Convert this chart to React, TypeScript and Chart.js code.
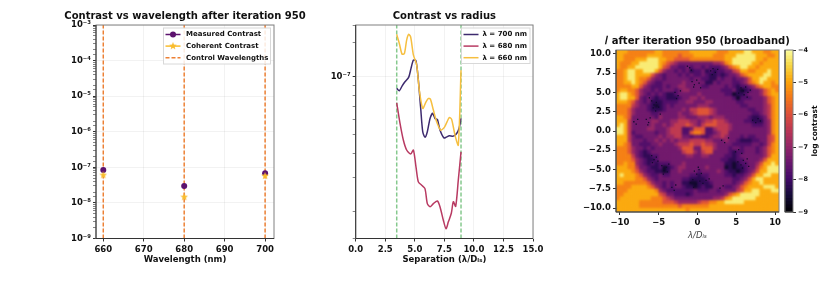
import React, { useEffect, useRef } from "react";
import { Chart, registerables } from "chart.js";

Chart.register(...registerables);

const FONT = "'DejaVu Sans'";

const wavelengths = [660, 680, 700];
const measuredContrast = [8.4e-8, 3.0e-8, 6.8e-8];
const coherentContrast = [6.0e-8, 1.45e-8, 5.7e-8];

const sep700 = [3.47, 3.69, 3.92, 4.17, 4.48, 4.68, 4.88, 5.1, 5.3, 5.5, 5.67, 5.86, 6.06, 6.29, 6.51, 6.71, 6.91, 7.13, 7.47, 7.7, 7.92, 8.26, 8.54, 8.74, 8.91];
const contrast700 = [0.87, 0.846, 0.894, 0.942, 0.992, 1.105, 1.22, 1.21, 0.961, 0.684, 0.518, 0.484, 0.518, 0.607, 0.645, 0.607, 0.6, 0.528, 0.48, 0.487, 0.493, 0.491, 0.507, 0.538, 0.607];
const sep680 = [3.47, 3.75, 4.03, 4.31, 4.65, 4.88, 5.1, 5.3, 5.58, 5.86, 6.06, 6.29, 6.57, 6.91, 7.13, 7.41, 7.64, 7.84, 8.09, 8.26, 8.46, 8.68, 8.91];
const contrast680 = [0.732, 0.572, 0.469, 0.416, 0.396, 0.416, 0.34, 0.284, 0.273, 0.262, 0.219, 0.211, 0.219, 0.226, 0.211, 0.18, 0.162, 0.176, 0.195, 0.224, 0.212, 0.29, 0.407];
const sep660 = [3.47, 3.69, 3.92, 4.12, 4.31, 4.48, 4.65, 4.88, 5.16, 5.38, 5.67, 5.95, 6.15, 6.32, 6.57, 6.85, 7.19, 7.5, 7.92, 8.12, 8.4, 8.68, 8.91];
const contrast660 = [1.66, 1.49, 1.31, 1.32, 1.55, 1.66, 1.61, 1.3, 1.15, 0.852, 0.684, 0.741, 0.771, 0.765, 0.671, 0.583, 0.528, 0.545, 0.614, 0.6, 0.497, 0.441, 1.08];
const darkZoneEdges = [3.47, 8.91];

const sepTicks = [0, 2.5, 5, 7.5, 10, 12.5, 15];

// log contrast for each digit used in the image rows
const levelValues = [-8.6, -8.2, -7.8, -7.4, -6.95, -6.45, -5.95, -5.4, -4.95, -4.25];
const imageRows = [
  "888777777788777777788888887778888998887788",
  "887777778888777767778888877788899999888778",
  "887778889998877666677777777788999999887888",
  "877788999998765433333333344578999998878888",
  "877889999998653322323323222346789988788888",
  "778998899986433232312231212233568877888988",
  "778998888643233323232232112123346788889988",
  "778998776433233333323322113233233468899888",
  "778898764322333334333331132333223467898878",
  "777788643222323344333322333323212234678877",
  "788776433232333234433333333222310123346787",
  "899876432323211233333433333322011233346788",
  "899886323212211123344343333333202223334678",
  "888764323111222233443334433333322333334678",
  "777754332101232333333444333333332233334578",
  "777643332111233334355666543333333322334578",
  "777643333223333343345666543333333332234578",
  "887633333324333344333444344433333321123578",
  "888533333443334455544345565543333221113478",
  "898533333433434555654356665554333332223478",
  "998533334433345552236662245554333333333478",
  "998523333323345552267762234553333333333478",
  "888532233334344553323322344543332322333568",
  "888533323343434344455554433343321112233568",
  "887633222334333455565565543333222223323578",
  "777643323233333346663366643332332333234678",
  "777643212333333335664356633332122333234678",
  "777753211223333333443344333322123333334688",
  "777764321123333333333333333221122333346888",
  "778774321212223334333333333311012233468898",
  "888775332112012344333334333301011233578999",
  "888876432211013343333233334321101234688999",
  "898887643223223333322122333322122346889988",
  "888887764323333332211112333333223468998888",
  "887777776433232331100111233333234678898888",
  "777788887643232332110121133322346788889998",
  "777888888874322222223222332333356889988899",
  "778888888886533222123333333346789999988888",
  "788888888777654333333333344578999999888888",
  "888888777777666544444566778899999888888888",
  "888888777777777767777777888888888888888888",
  "888888888888888888788888888888888888888888",
];

// dark speckles seen in the image, x then y
const speckleX = [-5.9, -5.6, -5.3, -5.7, -5.0, -5.4, -4.8, -6.2, -2.9, -2.5, -2.2, -2.7, -0.7, -0.4, -0.1, -0.5, 0.2, 0.4, 1.7, 2.0, 2.3, 2.6, 1.9, -1.3, -1.0, -0.8, 5.6, 5.9, 6.2, 6.5, 6.8, 6.0, 6.4, 5.3, -6.6, -6.3, -6.1, -6.4, -8.2, -7.9, -7.7, 7.1, 7.5, 7.8, 8.1, -5.9, -5.6, -5.3, -5.8, -5.1, -4.6, -4.3, -4.0, -3.7, -4.4, -3.9, -0.4, -0.1, 0.2, 0.5, 0.1, -0.9, -0.6, -0.2, 0.3, 0.7, 1.1, 1.5, -0.5, 5.2, 5.6, 5.9, 6.2, 6.6, 5.8, 6.4, 4.9, 5.3, 5.7, 3.1, 4.0, 3.5, -3.3, -2.8, -3.0, 2.9, 3.3];
const speckleY = [3.9, 3.4, 3.7, 3.0, 3.1, 2.6, 2.2, 4.3, 5.0, 4.6, 5.2, 4.2, 6.4, 6.0, 6.6, 5.7, 6.2, 5.6, 7.8, 8.1, 7.6, 8.0, 7.3, 8.4, 8.2, 7.9, 5.6, 5.2, 5.7, 5.0, 5.3, 4.7, 4.4, 4.9, 1.5, 1.1, 1.7, 0.8, 1.2, 0.9, 1.5, 1.4, 1.1, 1.6, 1.3, -3.2, -3.7, -3.4, -4.1, -3.9, -4.5, -5.1, -4.7, -4.3, -5.6, -5.3, -5.2, -5.6, -5.0, -5.5, -4.7, -6.7, -6.3, -6.9, -6.5, -6.8, -6.4, -6.2, -7.3, -4.0, -4.4, -3.8, -4.2, -4.6, -4.8, -3.6, -2.7, -2.4, -2.9, -1.2, -0.9, -1.5, -7.3, -7.0, -7.7, -7.4, -7.1];
const speckleValue = -8.6;

const colorbarSteps = Array.from({ length: 50 }, (_, i) => i);

const inferno = [
  [0, 0, 4], [22, 11, 57], [66, 10, 104], [106, 23, 110], [147, 38, 103], [188, 55, 84],
  [221, 81, 58], [243, 120, 25], [252, 165, 10], [246, 215, 70], [252, 255, 164],
];

function infernoColor(t: number) {
  const p = Math.min(0.9999, Math.max(0, t)) * 10;
  const i = Math.floor(p);
  const f = p - i;
  const c = inferno[i].map((a, k) => Math.round(a + (inferno[i + 1][k] - a) * f));
  return `rgb(${c[0]},${c[1]},${c[2]})`;
}
const logColor = (v: number) => infernoColor((v + 9) / 5);

function sup(v: number) {
  const e = Math.round(Math.log10(v));
  const map: Record<string, string> = { "-": "⁻", "0": "⁰", "1": "¹", "2": "²", "3": "³", "4": "⁴", "5": "⁵", "6": "⁶", "7": "⁷", "8": "⁸", "9": "⁹" };
  return "10" + String(e).split("").map((c) => map[c]).join("");
}
const isDecade = (v: number) => Math.abs(Math.log10(v) - Math.round(Math.log10(v))) < 1e-6;
const signed = (v: number, d: number) => (v < 0 ? "−" : "") + Math.abs(v).toFixed(d);

function makeStar() {
  const c = document.createElement("canvas");
  c.width = 8;
  c.height = 8;
  const g = c.getContext("2d")!;
  g.fillStyle = "#f9bc2c";
  g.beginPath();
  for (let i = 0; i < 10; i++) {
    const r = i % 2 ? 1.7 : 4;
    const a = -Math.PI / 2 + (i * Math.PI) / 5;
    g.lineTo(4 + r * Math.cos(a), 4 + r * Math.sin(a));
  }
  g.closePath();
  g.fill();
  return c;
}

const framePlugin = {
  id: "frame",
  beforeDraw(chart: any) {
    const t = chart.titleBlock;
    if (!t) return;
    const c = (chart.chartArea.left + chart.chartArea.right) / 2;
    t.left = c - 200;
    t.right = c + 200;
  },
  afterDraw(chart: any) {
    const { left, right, top, bottom } = chart.chartArea;
    const g = chart.ctx;
    g.save();
    g.strokeStyle = "#808080";
    g.lineWidth = 1;
    g.strokeRect(left, top, right - left, bottom - top);
    g.strokeStyle = "#333";
    g.beginPath();
    g.moveTo(left, top);
    g.lineTo(left, bottom);
    g.lineTo(right, bottom);
    g.stroke();
    g.restore();
  },
};

const blurBase = {
  id: "blurBase",
  afterDatasetDraw(chart: any, args: any) {
    if (args.index !== 1) return;
    const { left, right, top, bottom } = chart.chartArea;
    const g = chart.ctx;
    g.save();
    g.beginPath();
    g.rect(left, top, right - left, bottom - top);
    g.clip();
    g.filter = "blur(0.9px)";
    g.drawImage(chart.canvas, 0, 0);
    g.restore();
  },
};

const boxLegend = {
  id: "boxLegend",
  afterDatasetsDraw(chart: any, _a: any, o: any) {
    if (!o.width) return;
    const g = chart.ctx;
    const items = chart.data.datasets.filter((d: any) => d.inLegend);
    const x0 = chart.chartArea.right - o.right - o.width;
    const y0 = chart.chartArea.top + 3;
    g.save();
    g.fillStyle = "rgba(255,255,255,0.85)";
    g.strokeStyle = "#d8d8d8";
    g.lineWidth = 1;
    g.fillRect(x0, y0, o.width, o.height);
    g.strokeRect(x0, y0, o.width, o.height);
    g.font = `bold ${o.size}px ${FONT}`;
    g.textBaseline = "middle";
    items.forEach((d: any, i: number) => {
      const y = y0 + 6.5 + i * 11.6;
      g.strokeStyle = d.legendColor;
      g.lineWidth = 1.5;
      g.setLineDash(d.borderDash || []);
      g.beginPath();
      g.moveTo(x0 + 2, y);
      g.lineTo(x0 + 17, y);
      g.stroke();
      g.setLineDash([]);
      if (d.pointStyle instanceof HTMLCanvasElement) g.drawImage(d.pointStyle, x0 + 5.5, y - 4);
      else if (d.pointRadius > 0) {
        g.fillStyle = d.legendColor;
        g.beginPath();
        g.arc(x0 + 9.5, y, 3, 0, Math.PI * 2);
        g.fill();
      }
      g.fillStyle = "#111";
      g.fillText(d.label, x0 + o.textX, y);
    });
    g.restore();
  },
};

const sideTitle = {
  id: "sideTitle",
  afterDraw(chart: any, _a: any, o: any) {
    if (!o.text) return;
    const g = chart.ctx;
    g.save();
    g.translate(o.x, (chart.chartArea.top + chart.chartArea.bottom) / 2);
    g.rotate(-Math.PI / 2);
    g.font = `bold 7.5px ${FONT}`;
    g.fillStyle = "#111";
    g.textAlign = "center";
    g.textBaseline = "middle";
    g.fillText(o.text, 0, 0);
    g.restore();
  },
};

const tickFont = { family: FONT, size: 8.5, weight: "bold" as const };
const baseTicks = { font: tickFont, color: "#111", maxRotation: 0, autoSkip: false, padding: 3, includeBounds: false };
const faintGrid = "rgba(0,0,0,0.05)";

function titleOpts(text: string, top: number, bottom: number) {
  return {
    display: true,
    text,
    color: "#111",
    font: { family: FONT, size: 10, weight: "bold" as const, lineHeight: 1.2 },
    padding: { top, bottom },
  };
}

function axisTitle(text: string, italic = false) {
  return {
    display: true,
    text,
    color: italic ? "#444" : "#111",
    padding: { top: 2, bottom: 0 },
    font: italic ? { family: FONT, size: 8.5, style: "italic" as const } : { family: FONT, size: 8.5, weight: "bold" as const },
  };
}

function wavelengthConfig(): any {
  const star = makeStar();
  return {
    type: "scatter",
    data: {
      datasets: [
        { label: "Measured Contrast", inLegend: true, legendColor: "#5c126e", data: wavelengths.map((x, i) => ({ x, y: measuredContrast[i] })), pointRadius: 3, pointBackgroundColor: "#5c126e", pointBorderWidth: 0, order: 1 },
        { label: "Coherent Contrast", inLegend: true, legendColor: "#f9bc2c", data: wavelengths.map((x, i) => ({ x, y: coherentContrast[i] })), pointStyle: star, pointRadius: 4, order: 0 },
        {
          label: "Control Wavelengths", inLegend: true, legendColor: "#ed8034", showLine: true, spanGaps: false, pointRadius: 0, borderColor: "#ed8034", borderWidth: 1.5, borderDash: [4, 2], order: 2,
          data: wavelengths.flatMap((x) => [{ x, y: 1e-9 }, { x, y: 1e-3 }, { x, y: null }]),
        },
      ],
    },
    options: {
      responsive: false,
      animation: false,
      layout: { padding: { right: 96, bottom: 16 } },
      plugins: { legend: { display: false }, tooltip: { enabled: false }, title: titleOpts("Contrast vs wavelength after iteration 950", 10, 3), boxLegend: { width: 107, height: 36, right: 3.5, textX: 22.5, size: 7 } },
      scales: {
        x: {
          type: "linear", min: 658.2, max: 702.2,
          afterFit: (s: any) => { s.height = 26.5; },
          ticks: { ...baseTicks, stepSize: 10 },
          grid: { color: faintGrid, tickLength: 3, tickColor: "#333" },
          border: { display: false },
          title: axisTitle("Wavelength (nm)"),
        },
        y: {
          type: "logarithmic", min: 1e-9, max: 1e-3,
          afterFit: (s: any) => { s.width = 96; },
          ticks: { ...baseTicks, padding: 2, callback: (v: number) => (isDecade(v) ? sup(v) : "") },
          grid: { color: (c: any) => (c.tick && c.tick.major ? faintGrid : "transparent"), tickLength: 3, tickColor: "#333", tickWidth: (c: any) => (c.tick && c.tick.major ? 1 : 0.6) },
          border: { display: false },
        },
      },
    },
    plugins: [framePlugin, boxLegend],
  };
}

function radiusConfig(): any {
  const line = (label: string, color: string, xs: number[], ys: number[], order: number) => ({
    label, inLegend: true, legendColor: color, showLine: true, tension: 0.25, pointRadius: 0, borderColor: color, borderWidth: 1.5, order,
    data: xs.map((x, i) => ({ x, y: ys[i] * 1e-7 })),
  });
  return {
    type: "scatter",
    data: {
      datasets: [
        line("λ = 700 nm", "#3d2a6e", sep700, contrast700, 2),
        line("λ = 680 nm", "#b83a62", sep680, contrast680, 1),
        line("λ = 660 nm", "#f6bf40", sep660, contrast660, 0),
        ...darkZoneEdges.map((x) => ({
          label: "edge", showLine: true, pointRadius: 0, borderColor: "#86c98e", borderWidth: 1.5, borderDash: [4, 2], order: 3,
          data: [{ x, y: 1.442e-8 }, { x, y: 1.858e-7 }],
        })),
      ],
    },
    options: {
      responsive: false,
      animation: false,
      layout: { padding: { right: 56, bottom: 16 } },
      plugins: { legend: { display: false }, tooltip: { enabled: false }, title: titleOpts("Contrast vs radius", 10, 3), boxLegend: { width: 68.5, height: 35.5, right: 3, textX: 21, size: 7 } },
      scales: {
        x: {
          type: "linear", min: 0, max: 15,
          afterFit: (s: any) => { s.height = 26.5; },
          afterBuildTicks: (s: any) => { s.ticks = sepTicks.map((value) => ({ value })); },
          ticks: { ...baseTicks, callback: (v: number) => v.toFixed(1) },
          grid: { color: faintGrid, tickLength: 3, tickColor: "#333" },
          border: { display: false },
          title: axisTitle("Separation (λ/Dₗₛ)"),
        },
        y: {
          type: "logarithmic", min: 1.442e-8, max: 1.858e-7,
          afterFit: (s: any) => { s.width = 55.7; },
          ticks: { ...baseTicks, padding: 2, callback: (v: number) => (isDecade(v) ? sup(v) : "") },
          grid: { color: (c: any) => (c.tick && c.tick.major ? faintGrid : "transparent"), tickLength: 3, tickColor: "#333", tickWidth: (c: any) => (c.tick && c.tick.major ? 1 : 0.6) },
          border: { display: false },
        },
      },
    },
    plugins: [framePlugin, boxLegend],
  };
}

function imageConfig(): any {
  const n = imageRows.length;
  const step = 21 / n;
  const cells: { x: number; y: number; v: number }[] = [];
  imageRows.forEach((row, r) => {
    row.split("").forEach((ch, c) => {
      cells.push({ x: -10.5 + (c + 0.5) * step, y: 10.5 - (r + 0.5) * step, v: levelValues[Number(ch)] });
    });
  });
  return {
    type: "scatter",
    data: {
      datasets: [
        { label: "speckle", data: speckleX.map((x, i) => ({ x, y: speckleY[i] })), pointStyle: "rect", pointRadius: 0.9, pointBorderWidth: 0, pointBackgroundColor: logColor(speckleValue) },
        { label: "log contrast", data: cells, pointStyle: "rect", pointRadius: 3, pointBorderWidth: 0, pointBackgroundColor: cells.map((p) => logColor(p.v)) },
      ],
    },
    options: {
      responsive: false,
      animation: false,
      layout: { padding: { right: 56, bottom: 40 } },
      plugins: { legend: { display: false }, tooltip: { enabled: false }, title: titleOpts("𝐼 after iteration 950 (broadband)", 35, 3) },
      scales: {
        x: {
          type: "linear", min: -10.5, max: 10.5,
          afterFit: (s: any) => { s.height = 29; },
          ticks: { ...baseTicks, stepSize: 5, callback: (v: number) => signed(v, 0) },
          grid: { display: true, drawOnChartArea: false, tickLength: 3, tickColor: "#333" },
          border: { display: false },
          title: axisTitle("λ/Dₗₛ", true),
        },
        y: {
          type: "linear", min: -10.5, max: 10.5,
          afterFit: (s: any) => { s.width = 56; },
          ticks: { ...baseTicks, padding: 2, stepSize: 2.5, callback: (v: number) => signed(v, 1) },
          grid: { display: true, drawOnChartArea: false, tickLength: 3, tickColor: "#333" },
          border: { display: false },
        },
      },
    },
    plugins: [blurBase, framePlugin],
  };
}

function colorbarConfig(): any {
  return {
    type: "bar",
    data: {
      labels: ["scale"],
      datasets: colorbarSteps.map((i) => {
        const lo = -9 + i * 0.1;
        return { label: "band", data: [[lo, lo + 0.12]], backgroundColor: logColor(lo + 0.05), borderWidth: 0, barPercentage: 1, categoryPercentage: 1, grouped: false };
      }),
    },
    options: {
      responsive: false,
      animation: false,
      layout: { padding: { left: 15, top: 50, bottom: 69 } },
      plugins: { legend: { display: false }, tooltip: { enabled: false }, sideTitle: { text: "log contrast", x: 45 } },
      scales: {
        x: { display: false, grid: { display: false } },
        y: {
          position: "right", min: -9, max: -4,
          afterFit: (s: any) => { s.width = 37; },
          ticks: { font: { family: FONT, size: 6.5, weight: "bold" as const }, color: "#111", stepSize: 1, padding: 2, callback: (v: number) => signed(v, 0) },
          grid: { drawOnChartArea: false, tickLength: 3, tickColor: "#333" },
          border: { display: false },
        },
      },
    },
    plugins: [framePlugin, sideTitle],
  };
}

const panels = [
  { key: "wave", left: 0, width: 370, config: wavelengthConfig },
  { key: "radius", left: 300, width: 289, config: radiusConfig },
  { key: "image", left: 560, width: 275, config: imageConfig },
  { key: "bar", left: 770, width: 60, config: colorbarConfig },
];

export default function App() {
  const refs = useRef<(HTMLCanvasElement | null)[]>([]);
  useEffect(() => {
    document.body.style.margin = "0";
    document.body.style.background = "#fff";
    const charts = panels.map((p, i) => new Chart(refs.current[i]!, p.config()));
    return () => charts.forEach((c) => c.destroy());
  }, []);
  return (
    <div style={{ position: "relative", width: 830, height: 281, overflow: "hidden", background: "#fff" }}>
      {panels.map((p, i) => (
        <canvas
          key={p.key}
          ref={(el) => { refs.current[i] = el; }}
          width={p.width}
          height={281}
          style={{ position: "absolute", left: p.left, top: 0, width: p.width, height: 281, filter: "blur(0.4px)" }}
        />
      ))}
    </div>
  );
}
